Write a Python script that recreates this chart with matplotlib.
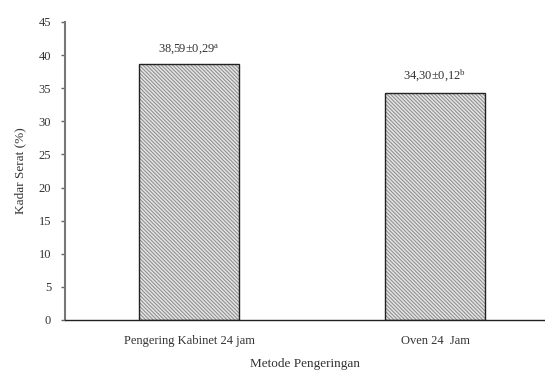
import matplotlib
matplotlib.use("Agg")
import matplotlib.pyplot as plt

categories = ["Pengering Kabinet 24 jam", "Oven 24  Jam"]
values = [38.59, 34.30]
errors = ["0,29", "0,12"]
letters = ["a", "b"]
value_labels = ["38,59", "34,30"]
yticks = [0, 5, 10, 15, 20, 25, 30, 35, 40, 45]

plt.rcParams['font.family'] = ['Liberation Serif', 'DejaVu Serif']
plt.rcParams['mathtext.fontset'] = 'custom'
plt.rcParams['mathtext.rm'] = 'Liberation Serif'
plt.rcParams['mathtext.it'] = 'Liberation Serif:italic'
plt.rcParams['hatch.linewidth'] = 0.7

fig = plt.figure(figsize=(5.45, 3.73), dpi=100)
ax = fig.add_axes([65/545, 1-320/373, 480/545, 298/373])

x = list(range(len(categories)))
ax.bar(x, values, width=0.41, color='#e2e2e2', edgecolor='#8a8a8a', hatch='\\' * 9, linewidth=0, zorder=2)
ax.bar(x, values, width=0.41, fill=False, edgecolor='#222222', linewidth=1.0, zorder=3)

for xi, v, vl, e, l in zip(x, values, value_labels, errors, letters):
    ax.text(xi, v + 1.3, f"{vl}±{e}$^{{\\mathrm{{{l}}}}}$", ha='center', va='bottom', fontsize=9, color='#333333')

ax.set_xlim(-0.504, 1.447)
ax.set_ylim(0, 45)
ax.set_yticks(yticks)
ax.set_xticks(x)
ax.set_xticklabels(categories, fontsize=9, color='#333333')
ax.tick_params(axis='x', length=0, pad=11)
ax.tick_params(axis='y', length=3, width=1, color='#666666', labelsize=9, labelcolor='#333333', pad=7)

for s in ['top', 'right']:
    ax.spines[s].set_visible(False)
ax.spines['left'].set_color('#777777')
ax.spines['left'].set_linewidth(1.5)
ax.spines['bottom'].set_color('#222222')
ax.spines['bottom'].set_linewidth(1.0)

ax.set_ylabel("Kadar Serat (%)", fontsize=9.5, color='#333333', labelpad=9)
ax.set_xlabel("Metode Pengeringan", fontsize=9.5, color='#333333', labelpad=7.5)

fig.savefig("out.png", dpi=100)
